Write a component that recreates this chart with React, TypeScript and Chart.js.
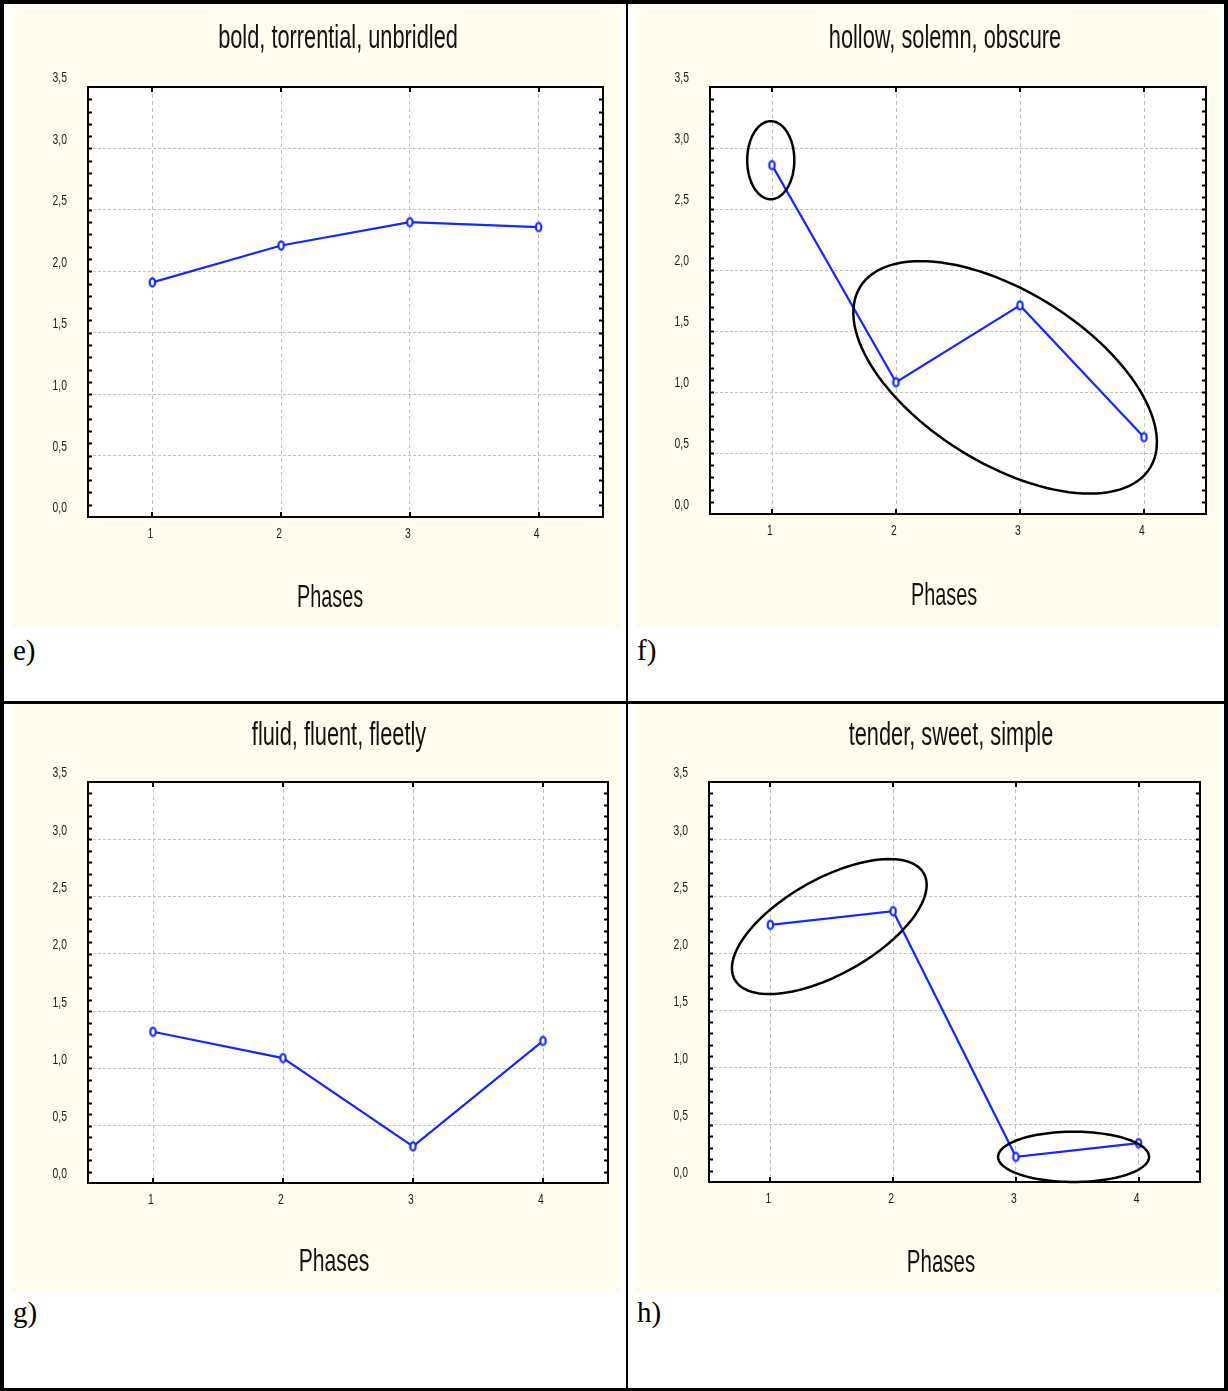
import React, { useEffect, useRef } from 'react';
import { Chart, registerables } from 'chart.js';

Chart.register(...registerables);

// ---- data ----
const phases = [1, 2, 3, 4];
const xTickLabels = ['1', '2', '3', '4'];
const yTicks = [0, 0.5, 1, 1.5, 2, 2.5, 3, 3.5];
const yTickLabels = ['0,0', '0,5', '1,0', '1,5', '2,0', '2,5', '3,0', '3,5'];
const yMinorStep = 0.1;

const titles = ['bold, torrential, unbridled', 'hollow, solemn, obscure', 'fluid, fluent, fleetly', 'tender, sweet, simple'];
const panelLetters = ['e)', 'f)', 'g)', 'h)'];
const xAxisTitle = 'Phases';

const boldValues = [1.91, 2.21, 2.40, 2.36];
const hollowValues = [2.86, 1.08, 1.71, 0.63];
const fluidValues = [1.32, 1.09, 0.32, 1.24];
const tenderValues = [2.25, 2.37, 0.22, 0.34];

// ellipse annotations in data units: centre + two semi-axis vectors
const hollowEllipses = [
  { cx: 0.99, cy: 2.9, ux: 0.19, uy: 0, vx: 0, vy: 0.32 },
  { cx: 2.88, cy: 1.12, ux: 1.17, uy: -0.74, vx: -0.36, vy: -0.6 },
];
const tenderEllipses = [
  { cx: 1.48, cy: 2.235, ux: 0.77, uy: 0.465, vx: 0.19, vy: -0.364 },
  { cx: 3.47, cy: 0.22, ux: 0.615, uy: 0, vx: 0, vy: 0.22 },
];
const noEllipses: any[] = [];

// ---- layout / style ----
const CREAM = '#fffcef';
const BLUE = '#1428ff';
const GRID = '#c2c2c2';
const SANS = '"Liberation Sans", Arial, Helvetica, sans-serif';
const SERIF = '"Liberation Serif", "Times New Roman", serif';

const panels = [
  {
    title: titles[0], letter: panelLetters[0], values: boldValues, ellipses: noEllipses,
    cream: { x: 12, y: 5, w: 608, h: 623 }, plot: { l: 88, r: 603, t: 87, b: 517 },
    titlePos: { cx: 337.5, base: 48 }, phasesPos: { cx: 330, base: 607, sx: 0.62 }, letterPos: { x: 13, base: 660 },
  },
  {
    title: titles[1], letter: panelLetters[1], values: hollowValues, ellipses: hollowEllipses,
    cream: { x: 636, y: 5, w: 584, h: 622 }, plot: { l: 710, r: 1206, t: 87, b: 514 },
    titlePos: { cx: 945, base: 48 }, phasesPos: { cx: 944, base: 605, sx: 0.62 }, letterPos: { x: 637, base: 660 },
  },
  {
    title: titles[2], letter: panelLetters[2], values: fluidValues, ellipses: noEllipses,
    cream: { x: 12, y: 704, w: 608, h: 587 }, plot: { l: 88, r: 608, t: 782, b: 1183 },
    titlePos: { cx: 338.5, base: 745 }, phasesPos: { cx: 334, base: 1271, sx: 0.66 }, letterPos: { x: 13, base: 1322 },
  },
  {
    title: titles[3], letter: panelLetters[3], values: tenderValues, ellipses: tenderEllipses,
    cream: { x: 636, y: 704, w: 584, h: 587 }, plot: { l: 709, r: 1200, t: 782, b: 1182 },
    titlePos: { cx: 951, base: 745 }, phasesPos: { cx: 940.5, base: 1272, sx: 0.64 }, letterPos: { x: 637, base: 1322 },
  },
];

function makeMarker(color: string) {
  const c = document.createElement('canvas');
  c.width = 11;
  c.height = 15;
  const ctx = c.getContext('2d')!;
  ctx.beginPath();
  ctx.ellipse(5.5, 7.5, 2.7, 4.2, 0, 0, Math.PI * 2);
  ctx.fillStyle = '#ffffff';
  ctx.fill();
  ctx.lineWidth = 2.2;
  ctx.strokeStyle = color;
  ctx.stroke();
  return c;
}

function Panel({ cfg }: { cfg: any }) {
  const ref = useRef<HTMLCanvasElement>(null);
  const { cream, plot } = cfg;

  useEffect(() => {
    const canvas = ref.current!;
    const pad = {
      left: plot.l - cream.x,
      top: plot.t - cream.y,
      right: cream.x + cream.w - plot.r,
      bottom: cream.y + cream.h - plot.b,
    };
    const deco = {
      id: 'deco',
      beforeDraw(chart: any) {
        const { ctx, chartArea: a } = chart;
        ctx.save();
        ctx.fillStyle = CREAM;
        ctx.fillRect(0, 0, chart.width, chart.height);
        ctx.fillStyle = '#ffffff';
        ctx.fillRect(a.left, a.top, a.right - a.left, a.bottom - a.top);
        ctx.restore();
      },
      afterDatasetsDraw(chart: any) {
        const { ctx, chartArea: a } = chart;
        const xs = chart.scales.x;
        const ys = chart.scales.y;
        ctx.save();
        // frame
        ctx.strokeStyle = '#000';
        ctx.lineWidth = 2;
        ctx.strokeRect(a.left, a.top, a.right - a.left, a.bottom - a.top);
        // minor y ticks (left & right, inward)
        ctx.lineWidth = 2;
        ctx.beginPath();
        const n = Math.round(3.5 / yMinorStep);
        for (let k = 1; k < n; k++) {
          const py = Math.round(ys.getPixelForValue(k * yMinorStep)) + 0.5;
          ctx.moveTo(a.left, py);
          ctx.lineTo(a.left + 4, py);
          ctx.moveTo(a.right, py);
          ctx.lineTo(a.right - 4, py);
        }
        // x ticks (top & bottom, inward)
        for (const p of phases) {
          const px = Math.round(xs.getPixelForValue(p));
          ctx.moveTo(px, a.top);
          ctx.lineTo(px, a.top + 5);
          ctx.moveTo(px, a.bottom);
          ctx.lineTo(px, a.bottom - 5);
        }
        ctx.stroke();
        // tick labels
        ctx.fillStyle = '#1a1a1a';
        ctx.font = '14px ' + SANS;
        ctx.textBaseline = 'middle';
        ctx.textAlign = 'right';
        yTicks.forEach((v, i) => {
          ctx.save();
          ctx.translate(a.left - 21, ys.getPixelForValue(v) - 8.5);
          ctx.scale(0.74, 1);
          ctx.fillText(yTickLabels[i], 0, 0);
          ctx.restore();
        });
        ctx.textAlign = 'center';
        phases.forEach((p, i) => {
          ctx.save();
          ctx.translate(xs.getPixelForValue(p) - 2, a.bottom + 17.5);
          ctx.scale(0.74, 1);
          ctx.fillText(xTickLabels[i], 0, 0);
          ctx.restore();
        });
        // ellipse annotations
        ctx.strokeStyle = '#000';
        ctx.lineWidth = 2.5;
        ctx.lineJoin = 'round';
        for (const e of cfg.ellipses) {
          ctx.beginPath();
          const steps = 120;
          for (let k = 0; k <= steps; k++) {
            const t = (k / steps) * Math.PI * 2;
            const dx = e.cx + e.ux * Math.cos(t) + e.vx * Math.sin(t);
            const dy = e.cy + e.uy * Math.cos(t) + e.vy * Math.sin(t);
            const px = xs.getPixelForValue(dx);
            const py = ys.getPixelForValue(dy);
            if (k === 0) ctx.moveTo(px, py);
            else ctx.lineTo(px, py);
          }
          ctx.closePath();
          ctx.stroke();
        }
        ctx.restore();
      },
    };

    const chart = new Chart(canvas, {
      type: 'line',
      data: {
        datasets: [
          {
            data: phases.map((p, i) => ({ x: p, y: cfg.values[i] })),
            borderColor: BLUE,
            borderWidth: 2.2,
            pointStyle: makeMarker(BLUE) as any,
            pointRadius: 5,
            tension: 0,
            fill: false,
            clip: false as any,
          },
        ],
      },
      options: {
        responsive: false,
        animation: false,
        events: [],
        layout: { padding: pad },
        plugins: { legend: { display: false }, tooltip: { enabled: false }, title: { display: false } },
        scales: {
          x: {
            type: 'linear',
            min: 0.5,
            max: 4.5,
            afterBuildTicks: (s: any) => {
              s.ticks = phases.map((v) => ({ value: v }));
            },
            afterFit: (s: any) => {
              s.height = 0;
            },
            ticks: { display: false },
            grid: { color: GRID, lineWidth: 1, drawTicks: false },
            border: { display: false, dash: [4, 3] },
          },
          y: {
            type: 'linear',
            min: 0,
            max: 3.5,
            afterBuildTicks: (s: any) => {
              s.ticks = yTicks.filter((v) => v > 0 && v < 3.5).map((v) => ({ value: v }));
            },
            afterFit: (s: any) => {
              s.width = 0;
            },
            ticks: { display: false },
            grid: { color: GRID, lineWidth: 1, drawTicks: false },
            border: { display: false, dash: [3, 2] },
          },
        },
      } as any,
      plugins: [deco],
    });
    return () => chart.destroy();
  }, []);

  const titleFs = 33;
  const phasesFs = 32;
  const letterFs = 29;
  return (
    <>
      <canvas
        ref={ref}
        width={cream.w}
        height={cream.h}
        style={{ position: 'absolute', left: cream.x, top: cream.y, width: cream.w, height: cream.h }}
      />
      <div
        style={{
          position: 'absolute', left: cfg.titlePos.cx - 500, width: 1000, textAlign: 'center',
          top: cfg.titlePos.base - 0.8465 * titleFs, fontFamily: SANS, fontSize: titleFs, lineHeight: titleFs + 'px',
          color: '#111', transform: 'scaleX(0.66)', transformOrigin: 'center', whiteSpace: 'nowrap',
        }}
      >
        {cfg.title}
      </div>
      <div
        style={{
          position: 'absolute', left: cfg.phasesPos.cx - 500, width: 1000, textAlign: 'center',
          top: cfg.phasesPos.base - 0.8465 * phasesFs, fontFamily: SANS, fontSize: phasesFs, lineHeight: phasesFs + 'px',
          color: '#111', transform: `scaleX(${cfg.phasesPos.sx})`, transformOrigin: 'center', whiteSpace: 'nowrap',
        }}
      >
        {xAxisTitle}
      </div>
      <div
        style={{
          position: 'absolute', left: cfg.letterPos.x,
          top: cfg.letterPos.base - 0.8375 * letterFs, fontFamily: SERIF, fontSize: letterFs, lineHeight: letterFs + 'px',
          color: '#000', whiteSpace: 'nowrap',
        }}
      >
        {cfg.letter}
      </div>
    </>
  );
}

export default function App() {
  const bar = (l: number, t: number, w: number, h: number) => (
    <div style={{ position: 'absolute', left: l, top: t, width: w, height: h, background: '#000' }} />
  );
  return (
    <div style={{ position: 'absolute', left: 0, top: 0, width: 1228, height: 1391, background: '#fff', overflow: 'hidden' }}>
      {panels.map((p, i) => (
        <Panel key={i} cfg={p} />
      ))}
      {bar(0, 0, 1228, 4)}
      {bar(0, 0, 4, 1391)}
      {bar(1224, 0, 4, 1391)}
      {bar(0, 1388, 1228, 3)}
      {bar(626, 0, 2, 1391)}
      {bar(0, 701, 1228, 3)}
    </div>
  );
}
